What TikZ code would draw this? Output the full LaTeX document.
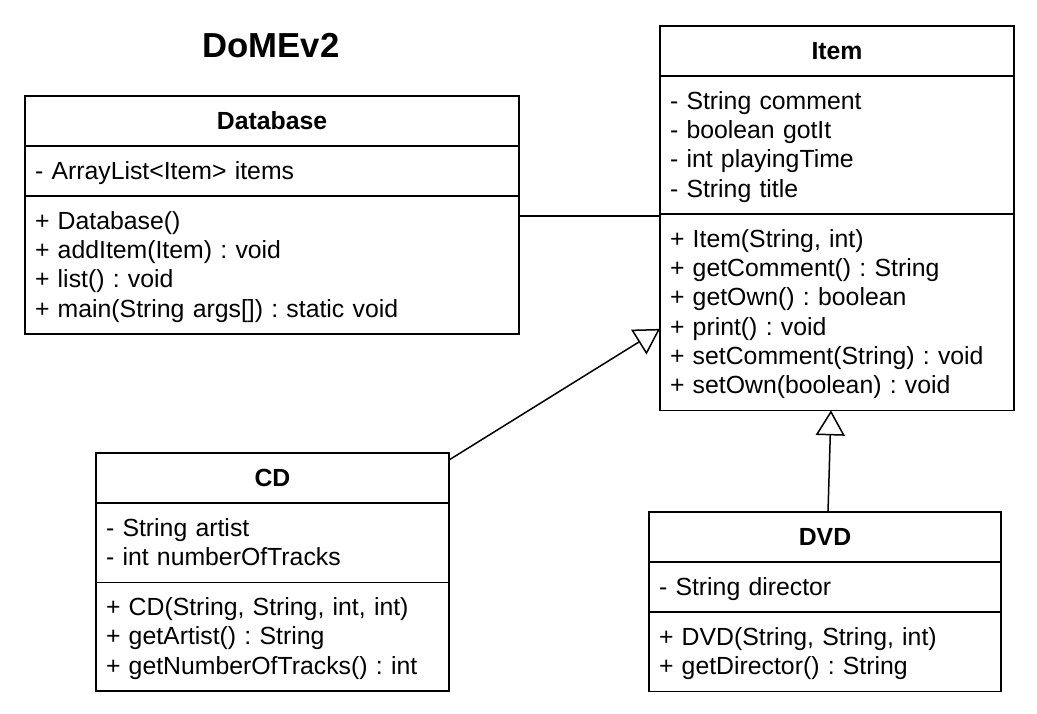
\documentclass[tikz,border=0pt]{standalone}
\usepackage{fontspec}
\setmainfont{Liberation Sans}
\usetikzlibrary{positioning,arrows.meta}

\frenchspacing
\newcommand\umlstrut{\rule[-6.3pt]{0pt}{29.3pt}}
\newcommand\umlrow[1]{\umlstrut#1\par}

\tikzset{
  umlpart/.style={draw, line width=1.5pt, outer sep=0pt, inner xsep=10pt, inner ysep=10.35pt,
                  align=left, font=\fontsize{24.8}{29.3}\selectfont},
  umlhead/.style={umlpart, align=center, font=\bfseries\fontsize{24.8}{29.3}\selectfont},
  assoc/.style={line width=1.5pt},
  inherit/.style={line width=1.5pt, -{Triangle[open, length=25pt, width=29pt]}},
}

\begin{document}
\begin{tikzpicture}[x=1pt, y=-1pt]
  \fill[white] (0,0) rectangle (1037,714);
  \useasboundingbox (0,0) rectangle (1037,714);

  \node[font=\bfseries\fontsize{34.7}{40}\selectfont] (diagtitle) at (271,46) {DoMEv2};

  % Database
  \node[umlhead, text width=474pt, anchor=north west] (db-head) at (25,96) {\umlstrut Database};
  \node[umlpart, text width=474pt, below=0pt of db-head] (db-attr) {\umlrow{- ArrayList<Item> items}};
  \node[umlpart, text width=474pt, below=0pt of db-attr] (db-ops) {%
    \umlrow{+ Database()}\umlrow{+ addItem(Item) : void}\umlrow{+ list() : void}%
    \umlrow{+ main(String args[]) : static void}};

  % Item
  \node[umlhead, text width=334pt, anchor=north west] (item-head) at (660,26) {\umlstrut Item};
  \node[umlpart, text width=334pt, below=0pt of item-head] (item-attr) {%
    \umlrow{- String comment}\umlrow{- boolean gotIt}\umlrow{- int playingTime}\umlrow{- String title}};
  \node[umlpart, text width=334pt, below=0pt of item-attr] (item-ops) {%
    \umlrow{+ Item(String, int)}\umlrow{+ getComment() : String}\umlrow{+ getOwn() : boolean}%
    \umlrow{+ print() : void}\umlrow{+ setComment(String) : void}\umlrow{+ setOwn(boolean) : void}};

  % CD
  \node[umlhead, text width=333pt, anchor=north west] (cd-head) at (96,453) {\umlstrut CD};
  \node[umlpart, text width=333pt, below=0pt of cd-head] (cd-attr) {%
    \umlrow{- String artist}\umlrow{- int numberOfTracks}};
  \node[umlpart, text width=333pt, below=0pt of cd-attr] (cd-ops) {%
    \umlrow{+ CD(String, String, int, int)}\umlrow{+ getArtist() : String}%
    \umlrow{+ getNumberOfTracks() : int}};

  % DVD
  \node[umlhead, text width=332pt, anchor=north west] (dvd-head) at (649,512) {\umlstrut DVD};
  \node[umlpart, text width=332pt, below=0pt of dvd-head] (dvd-attr) {\umlrow{- String director}};
  \node[umlpart, text width=332pt, below=0pt of dvd-attr] (dvd-ops) {%
    \umlrow{+ DVD(String, String, int)}\umlrow{+ getDirector() : String}};

  % connectors
  \draw[assoc] ([yshift=-20pt]db-ops.north east) -- ([yshift=-20pt]db-ops.north east -| item-ops.west);
  \draw[inherit] ([yshift=-7pt]cd-head.north east) -- ([yshift=-115pt]item-ops.north west);
  \draw[inherit] ([xshift=3pt]dvd-head.north) -- ([xshift=-6pt]item-ops.south);
\end{tikzpicture}
\end{document}
